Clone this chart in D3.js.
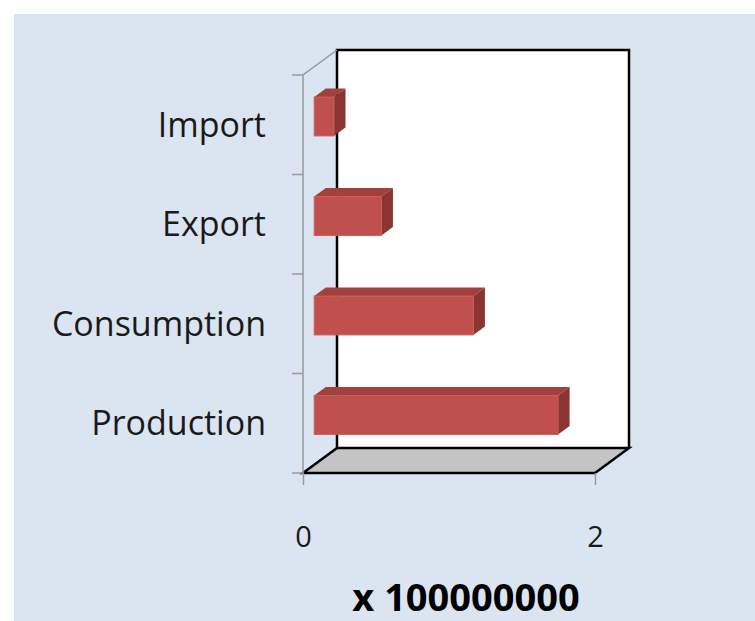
<!DOCTYPE html>
<html>
<head>
<meta charset="utf-8">
<script src="https://cdn.jsdelivr.net/npm/d3@7"></script>
<style>
  html, body { margin: 0; padding: 0; background: #ffffff; }
  svg { display: block; }
  text { font-variant-ligatures: none; }
</style>
</head>
<body>
<svg id="chart" width="755" height="621"></svg>
<script>
// Category names, bottom to top
const categories = ["Production", "Consumption", "Export", "Import"];
// Values in units of 100,000,000
const values = [1.67, 1.09, 0.46, 0.135];
// Value axis ticks and unit note
const xTicks = [0, 2];
const unitLabel = "x 100000000";

const svg = d3.select("#chart");
const W = 755, H = 621;
const FONT = "'Open Sans', 'Noto Sans', sans-serif";

// panel background
svg.append("rect").attr("x", 14).attr("y", 14).attr("width", W - 14).attr("height", H - 14)
  .attr("fill", "#dbe5f1");

// front plane of the 3D box
const x = d3.scaleLinear().domain([0, 2]).range([303, 595]);
const y = d3.scaleBand().domain(categories).range([473, 75])
  .paddingInner(0.61).paddingOuter(0.305);

// depth vector of the box
const DX = 34, DY = -25;
const f0 = 0.33, f1 = 0.67;           // bar depth span (fraction of box depth)

const [xa, xb] = x.range();
const yBottom = 473, yTop = 75;

const g = svg.append("g");

// back wall
g.append("rect")
  .attr("x", xa + DX).attr("y", yTop + DY)
  .attr("width", xb - xa).attr("height", yBottom - yTop)
  .attr("fill", "#ffffff");

// floor
const floorPts = [[xa, yBottom], [xb, yBottom], [xb + DX, yBottom + DY], [xa + DX, yBottom + DY]];
g.append("polygon")
  .attr("points", floorPts.map(p => p.join(",")).join(" "))
  .attr("fill", "#c4c4c4")
  .attr("stroke", "#000").attr("stroke-width", 2.5).attr("stroke-linejoin", "miter");

// back wall outline (left, top, right)
g.append("path")
  .attr("d", `M${xa + DX},${yBottom + DY} L${xa + DX},${yTop + DY} L${xb + DX},${yTop + DY} L${xb + DX},${yBottom + DY}`)
  .attr("fill", "none").attr("stroke", "#000").attr("stroke-width", 2.5);

// side wall edges (category axis)
const axisColor = "#9a9a9a";
g.append("path")
  .attr("d", `M${xa},${yBottom} L${xa},${yTop} L${xa + DX},${yTop + DY}`)
  .attr("fill", "none").attr("stroke", axisColor).attr("stroke-width", 1.5);

// category tick marks at band boundaries
const bounds = d3.range(categories.length + 1).map(i => yBottom - i * y.step());
g.selectAll(".ytick").data(bounds).join("line")
  .attr("x1", xa - 11).attr("x2", xa)
  .attr("y1", d => d).attr("y2", d => d)
  .attr("stroke", axisColor).attr("stroke-width", 1.5);

// value axis ticks
const xAxis = d3.axisBottom(x).tickValues(xTicks).tickSize(12).tickFormat(d3.format("d"));
const xg = g.append("g").attr("transform", `translate(0,${yBottom})`).call(xAxis);
xg.select(".domain").remove();
xg.selectAll(".tick line").attr("stroke", axisColor).attr("stroke-width", 1.5);
xg.selectAll(".tick text")
  .attr("y", 74).attr("dy", 0)
  .attr("fill", "#1a1a1a")
  .style("font-family", FONT)
  .style("font-size", "29px");

// category labels
g.selectAll(".ylabel").data(categories).join("text")
  .attr("x", 266)
  .attr("y", d => y(d) + y.bandwidth() / 2 + 12)
  .attr("text-anchor", "end")
  .attr("fill", "#1a1a1a")
  .style("font-family", FONT)
  .style("font-size", "34px")
  .text(d => d);

// bars as 3D boxes
const fx = DX * f0, fy = DY * f0;
const bx = DX * (f1 - f0), by = DY * (f1 - f0);
const bars = g.selectAll(".bar").data(categories.map((c, i) => ({ c, v: values[i] }))).join("g");

bars.each(function (d) {
  const sel = d3.select(this);
  const x0 = x(0) + fx, x1 = x(d.v) + fx;
  const y0 = y(d.c) + fy, y1 = y0 + y.bandwidth();
  // top face
  sel.append("polygon")
    .attr("points", [[x0, y0], [x1, y0], [x1 + bx, y0 + by], [x0 + bx, y0 + by]].map(p => p.join(",")).join(" "))
    .attr("fill", "#a1403d");
  // side face
  sel.append("polygon")
    .attr("points", [[x1, y0], [x1 + bx, y0 + by], [x1 + bx, y1 + by], [x1, y1]].map(p => p.join(",")).join(" "))
    .attr("fill", "#8a3532");
  // front face
  sel.append("rect")
    .attr("x", x0).attr("y", y0).attr("width", x1 - x0).attr("height", y1 - y0)
    .attr("fill", "#c0504d")
    .attr("stroke", "#cc5c59").attr("stroke-width", 1);
});

// unit note under the value axis
g.append("text")
  .attr("x", 466).attr("y", 611)
  .attr("text-anchor", "middle")
  .attr("fill", "#000")
  .style("font-family", FONT)
  .style("font-weight", "bold")
  .style("font-size", "38px")
  .text(unitLabel);
</script>
</body>
</html>
